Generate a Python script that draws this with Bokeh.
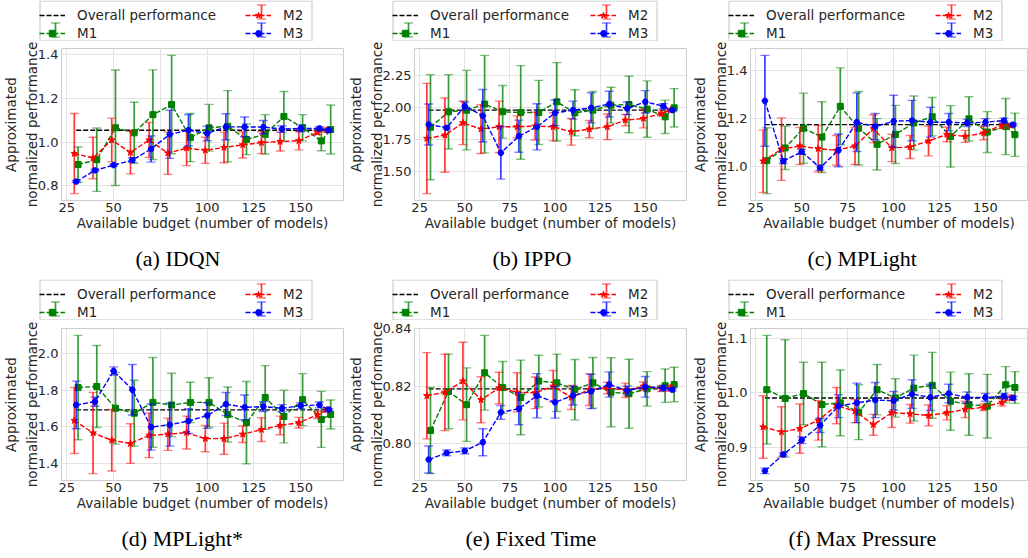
from bokeh.plotting import figure
from bokeh.layouts import row, column
from bokeh.models import (Range1d, FixedTicker, PrintfTickFormatter, Legend,
                          LegendItem, ColumnDataSource, Title)
from bokeh.embed import file_html
from bokeh.resources import INLINE

# ---------------- data ----------------
budget = [30, 40, 50, 60, 70, 80, 90, 100, 110, 120, 130, 140, 150, 160, 165]
x_ticks = [25, 50, 75, 100, 125, 150]
series_names = ["M1", "M2", "M3"]
overall_label = "Overall performance"
x_label = "Available budget (number of models)"
y_label = "Approximated\nnormalized performance"
captions = ["(a) IDQN", "(b) IPPO", "(c) MPLight",
            "(d) MPLight*", "(e) Fixed Time", "(f) Max Pressure"]
overall = [1.055, 1.979, 1.175, 1.692, 0.8191, 0.9909]

idqn_m1 = [0.898, 0.92, 1.066, 1.043, 1.126, 1.172, 1.021, 1.066, 1.073, 1.013, 1.036, 1.118, 1.066, 1.006, 1.058]
idqn_m1_err = [0.08, 0.145, 0.264, 0.14, 0.205, 0.225, 0.11, 0.107, 0.163, 0.07, 0.09, 0.114, 0.06, 0.045, 0.112]
idqn_m2 = [0.948, 0.928, 1.01, 0.953, 1.01, 0.95, 0.973, 0.963, 0.976, 0.988, 0.998, 1.003, 1.007, 1.045, 1.055]
idqn_m2_err = [0.183, 0.095, 0.1, 0.098, 0.08, 0.097, 0.08, 0.06, 0.07, 0.06, 0.05, 0.043, 0.042, 0.01, 0.01]
idqn_m3 = [0.82, 0.871, 0.895, 0.918, 0.969, 1.036, 1.055, 1.04, 1.07, 1.07, 1.069, 1.06, 1.063, 1.063, 1.055]
idqn_m3_err = [0.005, 0.005, 0.005, 0.01, 0.06, 0.11, 0.072, 0.033, 0.06, 0.045, 0.03, 0.015, 0.015, 0.008, 0.008]

ippo_m1 = [1.846, 1.966, 1.979, 2.026, 1.966, 1.961, 1.961, 2.044, 1.958, 1.979, 2.018, 2.023, 1.987, 1.927, 1.997]
ippo_m1_err = [0.41, 0.29, 0.31, 0.38, 0.205, 0.365, 0.25, 0.306, 0.18, 0.145, 0.14, 0.22, 0.22, 0.13, 0.15]
ippo_m2 = [1.758, 1.784, 1.88, 1.831, 1.849, 1.849, 1.854, 1.849, 1.81, 1.831, 1.849, 1.901, 1.914, 1.953, 1.979]
ippo_m2_err = [0.43, 0.29, 0.17, 0.19, 0.2, 0.085, 0.108, 0.11, 0.104, 0.067, 0.1, 0.044, 0.073, 0.02, 0.01]
ippo_m3 = [1.867, 1.841, 2.01, 1.935, 1.646, 1.776, 1.849, 1.958, 1.979, 1.997, 2.026, 1.992, 2.044, 2.01, 1.979]
ippo_m3_err = [0.16, 0.01, 0.033, 0.205, 0.205, 0.125, 0.18, 0.1, 0.07, 0.117, 0.1, 0.048, 0.087, 0.02, 0.01]

mplight_m1 = [1.025, 1.078, 1.16, 1.123, 1.251, 1.16, 1.093, 1.134, 1.182, 1.208, 1.126, 1.199, 1.144, 1.167, 1.133]
mplight_m1_err = [0.137, 0.09, 0.146, 0.147, 0.16, 0.153, 0.107, 0.121, 0.112, 0.08, 0.128, 0.092, 0.085, 0.117, 0.09]
mplight_m2 = [1.023, 1.073, 1.086, 1.075, 1.068, 1.086, 1.158, 1.078, 1.082, 1.107, 1.134, 1.126, 1.14, 1.174, 1.171]
mplight_m2_err = [0.13, 0.13, 0.077, 0.096, 0.062, 0.077, 0.058, 0.057, 0.048, 0.062, 0.03, 0.025, 0.028, 0.015, 0.008]
mplight_m3 = [1.274, 1.023, 1.062, 0.996, 1.068, 1.185, 1.167, 1.189, 1.192, 1.185, 1.185, 1.182, 1.185, 1.192, 1.175]
mplight_m3_err = [0.189, 0.01, 0.01, 0.01, 0.068, 0.122, 0.055, 0.108, 0.084, 0.062, 0.036, 0.015, 0.015, 0.01, 0.005]

mplights_m1 = [1.814, 1.82, 1.701, 1.674, 1.733, 1.719, 1.733, 1.733, 1.667, 1.622, 1.76, 1.656, 1.748, 1.64, 1.667]
mplights_m1_err = [0.285, 0.224, 0.196, 0.18, 0.245, 0.173, 0.11, 0.135, 0.15, 0.225, 0.174, 0.144, 0.142, 0.153, 0.079]
mplights_m2 = [1.634, 1.566, 1.526, 1.508, 1.553, 1.559, 1.568, 1.535, 1.535, 1.559, 1.584, 1.607, 1.622, 1.665, 1.692]
mplights_m2_err = [0.18, 0.222, 0.168, 0.108, 0.122, 0.088, 0.09, 0.072, 0.085, 0.045, 0.065, 0.051, 0.029, 0.02, 0.01]
mplights_m3 = [1.719, 1.737, 1.905, 1.802, 1.598, 1.611, 1.631, 1.661, 1.724, 1.706, 1.71, 1.701, 1.715, 1.719, 1.694]
mplights_m3_err = [0.13, 0.025, 0.022, 0.138, 0.126, 0.117, 0.067, 0.07, 0.063, 0.067, 0.027, 0.02, 0.016, 0.016, 0.005]

fixed_m1 = [0.8046, 0.8182, 0.8136, 0.8247, 0.8196, 0.8161, 0.8218, 0.8212, 0.8188, 0.8212, 0.8179, 0.8174, 0.8191, 0.8202, 0.8206]
fixed_m1_err = [0.015, 0.013, 0.0128, 0.013, 0.009, 0.013, 0.009, 0.01, 0.0105, 0.0088, 0.012, 0.012, 0.006, 0.0058, 0.006]
fixed_m2 = [0.8167, 0.8179, 0.8218, 0.8153, 0.8194, 0.8179, 0.8177, 0.82, 0.8161, 0.8188, 0.8194, 0.8186, 0.82, 0.8192, 0.8194]
fixed_m2_err = [0.015, 0.0133, 0.0135, 0.008, 0.0055, 0.0068, 0.0055, 0.0055, 0.0042, 0.0055, 0.002, 0.0025, 0.0015, 0.001, 0.001]
fixed_m3 = [0.7945, 0.7968, 0.7975, 0.8005, 0.8109, 0.8122, 0.8167, 0.8144, 0.8168, 0.8182, 0.8206, 0.8185, 0.8198, 0.8194, 0.8188]
fixed_m3_err = [0.0047, 0.001, 0.001, 0.0047, 0.0024, 0.0056, 0.0077, 0.0055, 0.0033, 0.006, 0.0044, 0.0016, 0.0036, 0.001, 0.0005]

maxp_m1 = [1.006, 0.99, 0.999, 0.979, 0.982, 0.965, 1.006, 0.991, 1.009, 1.014, 0.985, 0.979, 0.976, 1.015, 1.01]
maxp_m1_err = [0.099, 0.107, 0.057, 0.077, 0.06, 0.05, 0.046, 0.035, 0.06, 0.06, 0.053, 0.056, 0.058, 0.033, 0.029]
maxp_m2 = [0.938, 0.929, 0.935, 0.95, 0.977, 0.967, 0.942, 0.964, 0.962, 0.959, 0.964, 0.97, 0.974, 0.983, 0.991]
maxp_m2_err = [0.057, 0.046, 0.045, 0.036, 0.033, 0.021, 0.019, 0.027, 0.017, 0.019, 0.013, 0.015, 0.006, 0.007, 0.005]
maxp_m3 = [0.858, 0.888, 0.914, 0.941, 0.976, 0.982, 0.987, 0.986, 0.998, 0.992, 0.999, 0.992, 0.992, 0.994, 0.991]
maxp_m3_err = [0.005, 0.003, 0.006, 0.013, 0.021, 0.036, 0.032, 0.017, 0.026, 0.024, 0.017, 0.01, 0.007, 0.005, 0.003]

y_ticks = [[0.8, 1.0, 1.2, 1.4], [1.5, 1.75, 2.0, 2.25], [1.0, 1.2, 1.4],
           [1.4, 1.6, 1.8, 2.0], [0.80, 0.82, 0.84], [0.9, 1.0, 1.1]]
y_formats = ["%.1f", "%.2f", "%.1f", "%.1f", "%.2f", "%.1f"]

panels_data = [
    (idqn_m1, idqn_m1_err, idqn_m2, idqn_m2_err, idqn_m3, idqn_m3_err),
    (ippo_m1, ippo_m1_err, ippo_m2, ippo_m2_err, ippo_m3, ippo_m3_err),
    (mplight_m1, mplight_m1_err, mplight_m2, mplight_m2_err, mplight_m3, mplight_m3_err),
    (mplights_m1, mplights_m1_err, mplights_m2, mplights_m2_err, mplights_m3, mplights_m3_err),
    (fixed_m1, fixed_m1_err, fixed_m2, fixed_m2_err, fixed_m3, fixed_m3_err),
    (maxp_m1, maxp_m1_err, maxp_m2, maxp_m2_err, maxp_m3, maxp_m3_err),
]

# ---------------- style / layout ----------------
FONT = "DejaVu Sans"
FS = "13.5px"
TICK_FS = "13px"
TXT = "#262626"
COLORS = ["#008000", "#ff0000", "#0000ff"]
MARKERS = ["square", "star", "hex"]
MSIZES = [6, 7, 6]
XOFF = [1, -1, 0]
DASH = "5 2"
NAN = float("nan")

PAGE_W = 1028
COL_W = [344, 344, 340]
COL_LEFT = [61, 69, 62]
COL_RIGHT = [1, 2, 1]
ROW_H = [279, 279]
HEAD_H = [41, 41]
PLOT_TOP = [7, 8]
ROW_BOTTOM = [79, 78]
LEG_X = [39, 392, 728]
LEG_W = [273, 265, 274]
LEG_COL2 = [248, 593, 938]
LEG_PAD = 3
ITEM_H = 16
ITEM_GAP = 2
GLYPH_W = 26
LABEL_STANDOFF = 12
CAP_OFF = [[74, 78, 57], [60, 51, 38]]


def style_legend(**kw):
    base = dict(glyph_width=GLYPH_W, glyph_height=ITEM_H, label_height=ITEM_H,
                label_standoff=LABEL_STANDOFF, spacing=ITEM_GAP,
                padding=LEG_PAD, margin=0, label_text_font=FONT,
                label_text_font_size=FS, label_text_color=TXT,
                orientation="vertical", border_line_color=None,
                background_fill_alpha=0)
    base.update(kw)
    return Legend(**base)


def make_header(r):
    H = HEAD_H[r]
    h = figure(width=PAGE_W, height=H, output_backend="svg",
               toolbar_location=None, x_axis_type=None, y_axis_type=None,
               x_range=Range1d(0, PAGE_W), y_range=Range1d(0, H),
               min_border_left=0, min_border_right=0, min_border_top=0,
               min_border_bottom=0)
    h.outline_line_color = None
    h.background_fill_color = "white"
    h.border_fill_color = "white"

    bottom = 0.5
    top = H - 0.5
    # legend frames drawn as four light grey edges each
    lefts = [x + 0.5 for x in LEG_X]
    rights = [x + w - 0.5 for x, w in zip(LEG_X, LEG_W)]
    h.segment(x0=lefts + rights + lefts + lefts,
              y0=[bottom] * 6 + [bottom] * 3 + [top] * 3,
              x1=lefts + rights + rights + rights,
              y1=[top] * 6 + [bottom] * 3 + [top] * 3,
              line_color="#c4c4c4", line_width=1, line_alpha=1.0)

    # error-bar symbols inside the legend glyph areas
    leg_h = 2 * LEG_PAD + 2 * ITEM_H + ITEM_GAP
    row_y = [bottom + leg_h - LEG_PAD - ITEM_H / 2,
             bottom + LEG_PAD + ITEM_H / 2]
    sym_x = {0: [x + LEG_PAD + GLYPH_W / 2 for x in LEG_X],
             1: [x + GLYPH_W / 2 for x in LEG_COL2],
             2: [x + GLYPH_W / 2 for x in LEG_COL2]}
    sym_row = {0: 1, 1: 0, 2: 1}
    for k in range(3):
        ys = [row_y[sym_row[k]]] * 3
        h.segment(x0=sym_x[k], y0=[y - 7 for y in ys], x1=sym_x[k],
                  y1=[y + 7 for y in ys], line_color=COLORS[k],
                  line_width=1.7, line_alpha=0.78)
        h.scatter(sym_x[k] * 2, [y - 7 for y in ys] + [y + 7 for y in ys],
                  marker="dash", size=9, line_color=COLORS[k],
                  line_width=1.4, line_alpha=0.5)

    proxy = ColumnDataSource(dict(x=[NAN], y=[NAN]))
    ov = h.line("x", "y", source=proxy, line_color="black", line_dash=DASH,
                line_width=1.4)
    items = [LegendItem(label=overall_label, renderers=[ov])]
    for k in range(3):
        ln = h.line("x", "y", source=proxy, line_color=COLORS[k],
                    line_dash=DASH, line_width=1.4)
        mk = h.scatter("x", "y", source=proxy, marker=MARKERS[k],
                       size=MSIZES[k], fill_color=COLORS[k],
                       line_color=COLORS[k])
        items.append(LegendItem(label=series_names[k], renderers=[ln, mk]))
    for c in range(3):
        leg_a = style_legend(items=[items[0], items[1]],
                             location=(LEG_X[c], bottom),
                             label_width=LEG_W[c] - 2 * LEG_PAD - GLYPH_W - LABEL_STANDOFF)
        leg_b = style_legend(items=[items[2], items[3]],
                             location=(LEG_COL2[c] - LEG_PAD, bottom))
        h.add_layout(leg_a)
        h.add_layout(leg_b)
    return h


def make_panel(i):
    r, c = divmod(i, 3)
    m1, e1, m2, e2, m3, e3 = panels_data[i]
    means = [m1, m2, m3]
    errs = [e1, e2, e3]
    xs_all = [b + d for d in XOFF for b in budget]
    xmin, xmax = min(xs_all), max(xs_all)
    xpad = 0.05 * (xmax - xmin)
    lo_all = [m - e for mm, ee in zip(means, errs) for m, e in zip(mm, ee)]
    hi_all = [m + e for mm, ee in zip(means, errs) for m, e in zip(mm, ee)]
    ymin, ymax = min(lo_all), max(hi_all)
    ypad = 0.05 * (ymax - ymin)

    p = figure(width=COL_W[c], height=ROW_H[r] - HEAD_H[r],
               output_backend="svg", toolbar_location=None,
               x_range=Range1d(xmin - xpad, xmax + xpad),
               y_range=Range1d(ymin - ypad, ymax + ypad),
               min_border_left=COL_LEFT[c], min_border_right=COL_RIGHT[c],
               min_border_top=PLOT_TOP[r], min_border_bottom=ROW_BOTTOM[r])
    p.background_fill_color = "white"
    p.border_fill_color = "white"
    p.outline_line_color = "#cccccc"
    p.outline_line_width = 1
    p.grid.grid_line_color = "#e3e3e3"
    p.grid.grid_line_width = 1

    p.xaxis.ticker = FixedTicker(ticks=x_ticks)
    p.yaxis.ticker = FixedTicker(ticks=y_ticks[i])
    p.yaxis.formatter = PrintfTickFormatter(format=y_formats[i])
    p.xaxis.formatter = PrintfTickFormatter(format="%d")
    for ax in p.axis:
        ax.axis_line_color = None
        ax.major_tick_line_color = None
        ax.minor_tick_line_color = None
        ax.major_tick_out = 0
        ax.major_tick_in = 0
        ax.minor_tick_out = 0
        ax.minor_tick_in = 0
        ax.major_label_text_font = FONT
        ax.major_label_text_font_size = TICK_FS
        ax.major_label_text_color = TXT
        ax.axis_label_text_font = FONT
        ax.axis_label_text_font_size = FS
        ax.axis_label_text_font_style = "normal"
        ax.axis_label_text_color = TXT
    p.xaxis.axis_label = x_label
    p.yaxis.axis_label = y_label
    p.xaxis.major_label_standoff = 2
    p.xaxis.axis_label_standoff = 0
    p.yaxis.major_label_standoff = 3
    p.yaxis.axis_label_standoff = -5
    p.yaxis.axis_label_text_line_height = 1.3

    p.line(budget, [overall[i]] * len(budget), line_color="black",
           line_dash=DASH, line_width=1.4)

    for k in range(3):
        xs = [b + XOFF[k] for b in budget]
        lo = [m - e for m, e in zip(means[k], errs[k])]
        hi = [m + e for m, e in zip(means[k], errs[k])]
        src = ColumnDataSource(dict(x=xs, y=means[k], lo=lo, hi=hi))
        col = COLORS[k]
        p.segment(x0="x", y0="lo", x1="x", y1="hi", source=src,
                  line_color=col, line_width=1.7, line_alpha=0.78)
        p.scatter("x", "hi", source=src, marker="dash", size=9,
                  line_color=col, line_width=1.4, line_alpha=0.5)
        p.scatter("x", "lo", source=src, marker="dash", size=9,
                  line_color=col, line_width=1.4, line_alpha=0.5)
        p.line("x", "y", source=src, line_color=col, line_dash=DASH,
               line_width=1.4)
        p.scatter("x", "y", source=src, marker=MARKERS[k], size=MSIZES[k],
                  fill_color=col, line_color=col)

    # small blank spacer between the x-axis title and the caption
    p.add_layout(Title(text=" ", text_font_size="6px", standoff=0), "below")
    cap = Title(text=captions[i], align="left", offset=CAP_OFF[r][c],
                text_font="Liberation Serif", text_font_size="22px",
                text_font_style="normal", text_color="black", standoff=4)
    p.add_layout(cap, "below")
    return p


layout = column(
    make_header(0),
    row(*[make_panel(i) for i in range(3)]),
    make_header(1),
    row(*[make_panel(i) for i in range(3, 6)]),
)

open("out.html", "w").write(file_html(layout, INLINE))
